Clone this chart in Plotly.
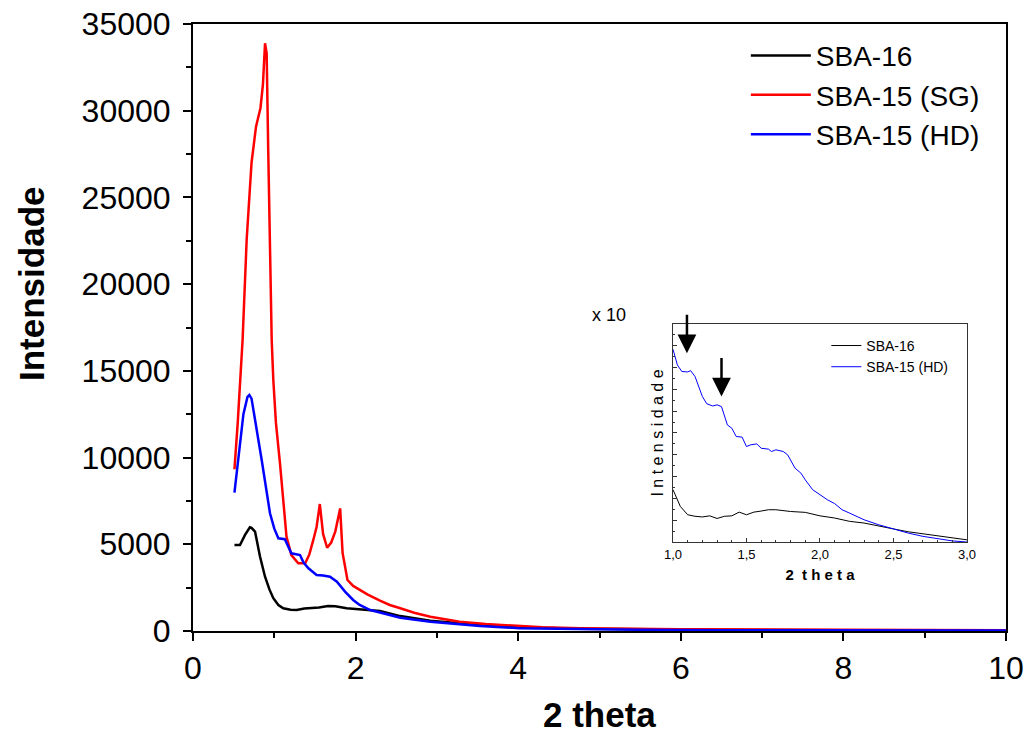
import plotly.graph_objects as go

# ---------------- main chart data ----------------
sba16_x = [0.51, 0.578, 0.64, 0.70, 0.72, 0.763, 0.824, 0.886, 0.94, 0.988, 1.05, 1.11, 1.2, 1.275,
           1.37, 1.46, 1.55, 1.66, 1.75, 1.89, 2.14, 2.30, 2.55, 2.92, 3.53, 4.02, 4.76, 5.5, 6.5, 8.0, 10.0]
sba16_y = [4960, 4960, 5540, 5980, 5950, 5730, 4290, 3130, 2400, 1890, 1500, 1310, 1230, 1210,
           1300, 1310, 1350, 1440, 1420, 1310, 1200, 1150, 860, 595, 346, 213, 133, 95, 70, 50, 40]

sg_x = [0.51, 0.55, 0.61, 0.66, 0.72, 0.775, 0.83, 0.86, 0.886, 0.906, 0.926, 0.947, 0.968, 0.988,
        1.02, 1.07, 1.11, 1.15, 1.21, 1.295, 1.38, 1.43, 1.48, 1.52, 1.56, 1.60, 1.65, 1.70, 1.75,
        1.81, 1.84, 1.90, 1.97, 2.05, 2.15, 2.30, 2.42, 2.55, 2.72, 2.92, 3.1, 3.28, 3.6, 3.94, 4.3,
        4.76, 5.3, 6.0, 7.0, 8.0, 9.0, 10.0]
sg_y = [9325, 12000, 16780, 22550, 27000, 29080, 30160, 31500, 33890, 33300, 27560, 22550, 16780, 14475,
        12000, 9670, 7300, 5440, 4380, 3900, 3900, 4400, 5250, 6000, 7320, 5600, 4800, 5100, 5730,
        7070, 4500, 2940, 2600, 2360, 2100, 1750, 1500, 1310, 1050, 825, 680, 537, 400, 290, 210,
        155, 120, 100, 80, 65, 55, 45]

hd_x = [0.51, 0.557, 0.62, 0.67, 0.693, 0.72, 0.76, 0.824, 0.845, 0.90, 0.947, 1.0, 1.05, 1.13, 1.17,
        1.21, 1.316, 1.36, 1.42, 1.52, 1.60, 1.685, 1.77, 1.87, 1.97, 2.05, 2.18, 2.30, 2.55, 2.92,
        3.2, 3.53, 4.02, 4.76, 5.5, 6.5, 8.0, 10.0]
hd_y = [7980, 9860, 12500, 13500, 13610, 13400, 12300, 10630, 9860, 8200, 6790, 5900, 5345, 5290, 4900,
        4480, 4380, 3950, 3615, 3230, 3200, 3130, 2845, 2270, 1790, 1500, 1210, 1055, 767, 537,
        420, 290, 155, 100, 70, 50, 35, 25]

# ---------------- inset data (x10, arbitrary units) ----------------
in16_x = [1.0, 1.05, 1.1, 1.15, 1.2, 1.25, 1.3, 1.35, 1.4, 1.45, 1.5, 1.55, 1.6, 1.65, 1.7, 1.8,
          1.9, 2.0, 2.1, 2.2, 2.3, 2.4, 2.5, 2.6, 2.7, 2.8, 2.9, 3.0]
in16_y = [24, 16.3, 12.5, 11.8, 11.5, 12, 10.8, 11.8, 12, 13.7, 12.5, 13.7, 14.2, 14.8, 14.8, 14,
          13.6, 12, 11, 9.5, 8.7, 7.2, 6, 4.7, 3.8, 2.9, 2, 1]

inhd_x = [1.0, 1.03, 1.06, 1.1, 1.12, 1.15, 1.2, 1.23, 1.27, 1.3, 1.33, 1.37, 1.4, 1.43, 1.47, 1.5,
          1.53, 1.57, 1.6, 1.65, 1.67, 1.7, 1.75, 1.78, 1.83, 1.87, 1.9, 1.95, 2.0, 2.05, 2.1, 2.15,
          2.2, 2.3, 2.4, 2.5, 2.6, 2.7, 2.8, 2.9, 3.0]
inhd_y = [88.4, 81.2, 78.2, 78, 78.6, 75.9, 66.7, 63.4, 62.4, 62.9, 62.1, 53.7, 52.2, 48.4, 48.1, 43.8,
          44.6, 45, 43, 42.6, 41.5, 42.3, 41.5, 40, 33.9, 31.6, 28.5, 24, 21.7, 19.4, 17.6, 14.8,
          13.3, 10.2, 7.9, 6, 4.1, 2.6, 1.4, 0.5, 0]

inset_ticks = [1.0, 1.5, 2.0, 2.5, 3.0]
inset_ticktext = ["1,0", "1,5", "2,0", "2,5", "3,0"]
arrow_x = [1.095, 1.33]
arrow_tip_y = [86.6, 66.7]

FONT = "Liberation Sans, Arial, sans-serif"

fig = go.Figure()
fig.add_trace(go.Scatter(x=sba16_x, y=sba16_y, mode="lines", name="SBA-16",
                         line=dict(color="black", width=2.5)))
fig.add_trace(go.Scatter(x=sg_x, y=sg_y, mode="lines", name="SBA-15 (SG)",
                         line=dict(color="#ff0000", width=2.5)))
fig.add_trace(go.Scatter(x=hd_x, y=hd_y, mode="lines", name="SBA-15 (HD)",
                         line=dict(color="#0000ff", width=2.5)))

fig.add_trace(go.Scatter(x=in16_x, y=in16_y, mode="lines", name="SBA-16", xaxis="x2", yaxis="y2",
                         line=dict(color="black", width=1), legend="legend2"))
fig.add_trace(go.Scatter(x=inhd_x, y=inhd_y, mode="lines", name="SBA-15 (HD)", xaxis="x2", yaxis="y2",
                         line=dict(color="#0000ff", width=1), legend="legend2"))

annotations = []
for ax_, ay_ in zip(arrow_x, arrow_tip_y):
    annotations.append(dict(x=ax_, y=ay_, xref="x2", yref="y2", ax=0, ay=-40, text="",
                            showarrow=True, arrowhead=2, arrowsize=1.5, arrowwidth=2.5,
                            arrowcolor="black"))
annotations.append(dict(x=0.512, y=0.5206, xref="paper", yref="paper", text="x 10",
                        showarrow=False, font=dict(family=FONT, size=18, color="black")))
# axis titles
annotations.append(dict(x=-0.198, y=0.5717, xref="paper", yref="paper", text="<b>Intensidade</b>",
                        textangle=-90, showarrow=False, xanchor="center", yanchor="middle",
                        font=dict(family=FONT, size=35, color="black")))
annotations.append(dict(x=0.5, y=-0.138, xref="paper", yref="paper", text="<b>2 theta</b>",
                        showarrow=False, xanchor="center", yanchor="middle",
                        font=dict(family=FONT, size=35, color="black")))

fig.update_layout(
    width=1027, height=740,
    margin=dict(l=193, r=21, t=24, b=109),
    paper_bgcolor="white", plot_bgcolor="white",
    font=dict(family=FONT, color="black"),
    showlegend=True,
    xaxis=dict(range=[0, 10], domain=[0, 1], anchor="y", showline=True, linewidth=2, linecolor="black",
               mirror=True, ticks="outside", ticklen=8, tickwidth=2, tickcolor="black",
               tick0=0, dtick=2, minor=dict(dtick=1, ticks="outside", ticklen=5, tickwidth=2, tickcolor="black"),
               showgrid=False, zeroline=False, tickfont=dict(size=32), automargin=False),
    yaxis=dict(range=[0, 35000], domain=[0, 1], anchor="x", showline=True, linewidth=2, linecolor="black",
               mirror=True, ticks="outside", ticklen=8, tickwidth=2, tickcolor="black",
               tick0=0, dtick=5000, tickformat="d", ticklabelstandoff=6,
               minor=dict(dtick=2500, ticks="outside", ticklen=5, tickwidth=2, tickcolor="black"),
               showgrid=False, zeroline=False, tickfont=dict(size=32), automargin=False),
    xaxis3=dict(range=[0, 10], overlaying="x", side="top", anchor="y", ticks="inside", ticklen=8,
                tickwidth=2, tickcolor="black", dtick=2, tick0=0, showticklabels=False,
                minor=dict(dtick=1, ticks="inside", ticklen=5, tickwidth=2, tickcolor="black"),
                showgrid=False, zeroline=False, showline=False, automargin=False),
    yaxis3=dict(range=[0, 35000], overlaying="y", side="right", anchor="x", ticks="inside", ticklen=8,
                tickwidth=2, tickcolor="black", dtick=5000, tick0=0, showticklabels=False,
                minor=dict(dtick=2500, ticks="inside", ticklen=5, tickwidth=2, tickcolor="black"),
                showgrid=False, zeroline=False, showline=False, automargin=False),
    xaxis2=dict(domain=[0.5904, 0.952], anchor="y2", range=[1, 3], showline=True, linewidth=1,
                linecolor="#333333", mirror=True, ticks="inside", ticklen=4, tickwidth=1, tickcolor="#333333",
                tickvals=inset_ticks, ticktext=inset_ticktext,
                minor=dict(dtick=0.1, ticks="inside", ticklen=2, tickwidth=1, tickcolor="#333333"),
                showgrid=False, zeroline=False, tickfont=dict(size=13), automargin=False,
                title=dict(text="<b>2  t h e t a</b>", font=dict(size=15), standoff=8)),
    yaxis2=dict(domain=[0.1466, 0.5058], anchor="x2", range=[0, 100], showline=True, linewidth=1,
                linecolor="#333333", mirror=True, ticks="inside", ticklen=4, tickwidth=1, tickcolor="#333333",
                dtick=10, tick0=0, showticklabels=False, automargin=False,
                minor=dict(dtick=5, ticks="inside", ticklen=2, tickwidth=1, tickcolor="#333333"),
                showgrid=False, zeroline=False,
                title=dict(text="I n t e n s i d a d e", font=dict(size=16), standoff=4)),
    legend=dict(x=0.680, y=0.989, xanchor="left", yanchor="top", bgcolor="rgba(0,0,0,0)",
                font=dict(size=28), itemwidth=60),
    legend2=dict(x=0.779, y=0.496, xanchor="left", yanchor="top", bgcolor="rgba(0,0,0,0)",
                 font=dict(size=14)),
    annotations=annotations,
)

fig.write_html("out.html")
